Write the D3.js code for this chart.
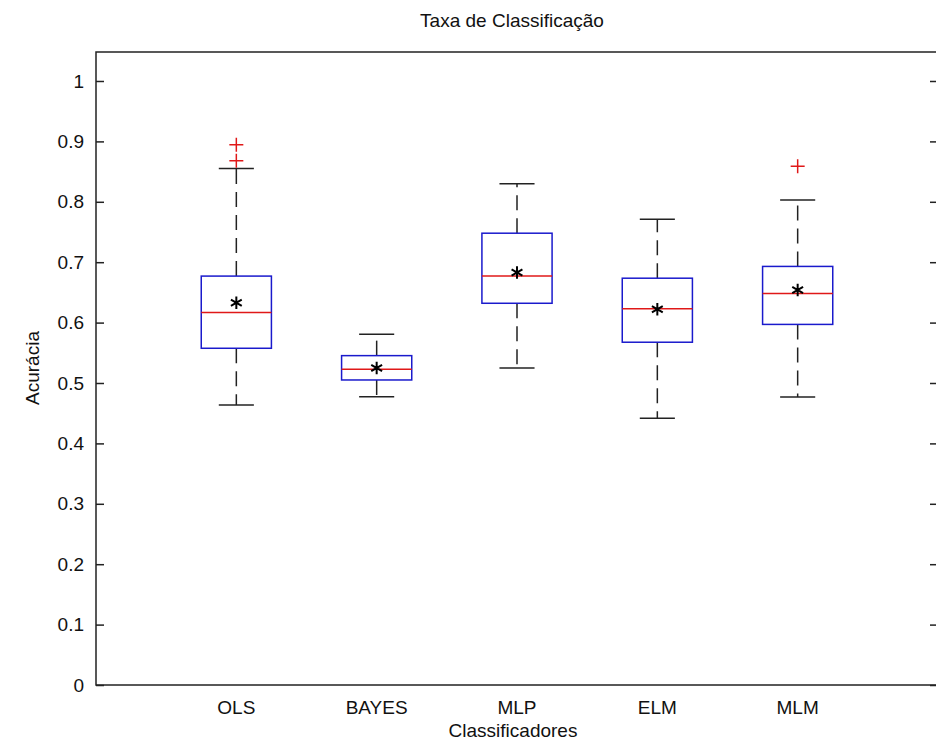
<!DOCTYPE html>
<html>
<head>
<meta charset="utf-8">
<script src="https://cdn.jsdelivr.net/npm/d3@7"></script>
<style>
  body { margin: 0; background: #fff; }
  text { font-family: "Liberation Sans", Arial, sans-serif; fill: #111; }
</style>
</head>
<body>
<div id="chart"></div>
<script>
var categories = ["OLS", "BAYES", "MLP", "ELM", "MLM"];
var whiskerLow = [0.4635, 0.4773, 0.525, 0.4415, 0.477];
var q1 = [0.5575, 0.505, 0.632, 0.5675, 0.597];
var medians = [0.6166, 0.5227, 0.677, 0.623, 0.648];
var q3 = [0.677, 0.5453, 0.748, 0.6735, 0.693];
var whiskerHigh = [0.855, 0.5807, 0.830, 0.771, 0.803];
var means = [0.633, 0.525, 0.683, 0.622, 0.654];
var outliers = [[0.8946, 0.868], [], [], [], [0.859]];
var yTicks = [0, 0.1, 0.2, 0.3, 0.4, 0.5, 0.6, 0.7, 0.8, 0.9, 1];

var W = 936, H = 749;
var axL = 96, axR = 938, axT = 52, axB = 685;

var svg = d3.select("#chart").append("svg")
    .attr("width", W)
    .attr("height", H);

var x = d3.scaleLinear().domain([0, categories.length + 1]).range([axL, axR]);
var y = d3.scaleLinear().domain([0, 1.048]).range([axB, axT]);

// frame
svg.append("rect")
    .attr("x", axL).attr("y", axT)
    .attr("width", axR - axL).attr("height", axB - axT)
    .attr("fill", "none").attr("stroke", "#222").attr("stroke-width", 1.5);

// y ticks, left and right
var yAxisL = d3.axisLeft(y).tickValues(yTicks).tickSizeInner(-8).tickSizeOuter(0).tickPadding(12)
    .tickFormat(function(d){ return String(+d.toFixed(1)); });
var gL = svg.append("g").attr("transform", "translate(" + axL + ",0)").call(yAxisL);
gL.select(".domain").remove();
gL.selectAll("line").attr("stroke", "#222").attr("stroke-width", 1.5);
gL.selectAll("text").style("font-size", "19px").attr("fill", "#111");

var yAxisR = d3.axisRight(y).tickValues(yTicks).tickSizeInner(-8).tickSizeOuter(0).tickFormat("");
var gR = svg.append("g").attr("transform", "translate(" + axR + ",0)").call(yAxisR);
gR.select(".domain").remove();
gR.selectAll("line").attr("stroke", "#222").attr("stroke-width", 1.5);

// category labels
svg.selectAll(".cat").data(categories).enter().append("text")
    .attr("class", "cat")
    .attr("x", function(d, i){ return x(i + 1); })
    .attr("y", 714)
    .attr("text-anchor", "middle")
    .style("font-size", "19px")
    .text(function(d){ return d; });

// titles
svg.append("text").attr("x", 512).attr("y", 27).attr("text-anchor", "middle")
    .style("font-size", "19px").text("Taxa de Classificação");
svg.append("text").attr("x", 513).attr("y", 737).attr("text-anchor", "middle")
    .style("font-size", "19px").text("Classificadores");
svg.append("text").attr("transform", "translate(39,368) rotate(-90)")
    .attr("text-anchor", "middle").style("font-size", "19px").text("Acurácia");

var boxW = 0.25, capW = 0.125;
var g = svg.selectAll(".bx").data(categories).enter().append("g").attr("class", "bx");

// whiskers
g.append("line")
    .attr("x1", function(d, i){ return x(i + 1); }).attr("x2", function(d, i){ return x(i + 1); })
    .attr("y1", function(d, i){ return y(q3[i]); }).attr("y2", function(d, i){ return y(whiskerHigh[i]); })
    .attr("stroke", "#222").attr("stroke-width", 1.5).attr("stroke-dasharray", "15,8");
g.append("line")
    .attr("x1", function(d, i){ return x(i + 1); }).attr("x2", function(d, i){ return x(i + 1); })
    .attr("y1", function(d, i){ return y(q1[i]); }).attr("y2", function(d, i){ return y(whiskerLow[i]); })
    .attr("stroke", "#222").attr("stroke-width", 1.5).attr("stroke-dasharray", "15,8");
// caps
[whiskerHigh, whiskerLow].forEach(function(arr){
  g.append("line")
    .attr("x1", function(d, i){ return x(i + 1 - capW); }).attr("x2", function(d, i){ return x(i + 1 + capW); })
    .attr("y1", function(d, i){ return y(arr[i]); }).attr("y2", function(d, i){ return y(arr[i]); })
    .attr("stroke", "#222").attr("stroke-width", 1.5);
});
// box
g.append("rect")
    .attr("x", function(d, i){ return x(i + 1 - boxW); })
    .attr("width", x(1 + boxW) - x(1 - boxW))
    .attr("y", function(d, i){ return y(q3[i]); })
    .attr("height", function(d, i){ return y(q1[i]) - y(q3[i]); })
    .attr("fill", "none").attr("stroke", "#1a1acc").attr("stroke-width", 1.5);
// median
g.append("line")
    .attr("x1", function(d, i){ return x(i + 1 - boxW); }).attr("x2", function(d, i){ return x(i + 1 + boxW); })
    .attr("y1", function(d, i){ return y(medians[i]); }).attr("y2", function(d, i){ return y(medians[i]); })
    .attr("stroke", "#e01818").attr("stroke-width", 1.5);
// mean star
var star = d3.symbol().type(d3.symbolAsterisk).size(110);
g.append("path")
    .attr("d", star)
    .attr("transform", function(d, i){ return "translate(" + x(i + 1) + "," + y(means[i]) + ")"; })
    .attr("fill", "none").attr("stroke", "#000").attr("stroke-width", 2);
// outliers
var plusShape = {draw: function(ctx){
  ctx.moveTo(-7, 0); ctx.lineTo(7, 0); ctx.moveTo(0, -7); ctx.lineTo(0, 7);
}};
categories.forEach(function(c, i){
  svg.selectAll(".out" + i).data(outliers[i]).enter().append("path")
    .attr("class", "out" + i)
    .attr("d", d3.symbol().type(plusShape))
    .attr("transform", function(v){ return "translate(" + x(i + 1) + "," + y(v) + ")"; })
    .attr("fill", "none").attr("stroke", "#e01818").attr("stroke-width", 1.5);
});
</script>
</body>
</html>
